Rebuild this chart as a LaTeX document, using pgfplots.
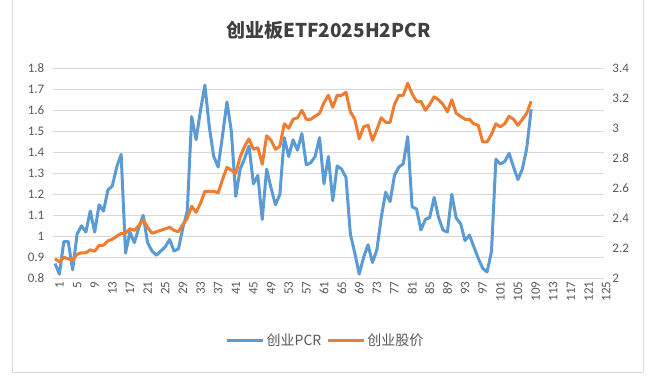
\documentclass[border=0pt]{standalone}
\usepackage{pgfplots}
\pgfplotsset{compat=1.18}
\usepackage{pgfplotstable}
\usepackage{fontspec}
\setmainfont{Carlito}
\newfontfamily\cjk{Noto Sans CJK SC}
\definecolor{pcrblue}{HTML}{5B9BD5}
\definecolor{priceorange}{HTML}{ED7D31}
\definecolor{gridgray}{HTML}{D9D9D9}
\definecolor{textgray}{HTML}{595959}
\definecolor{titlegray}{HTML}{404040}

\pgfplotstableread{
i pcr price
1 0.87 2.13
2 0.82 2.11
3 0.975 2.14
4 0.975 2.13
5 0.84 2.12
6 1.01 2.16
7 1.05 2.17
8 1.02 2.17
9 1.12 2.19
10 1.02 2.18
11 1.15 2.22
12 1.12 2.22
13 1.22 2.25
14 1.24 2.26
15 1.33 2.28
16 1.39 2.30
17 0.92 2.30
18 1.02 2.33
19 0.97 2.32
20 1.04 2.35
21 1.10 2.39
22 0.97 2.34
23 0.93 2.30
24 0.91 2.31
25 0.93 2.32
26 0.95 2.33
27 0.985 2.34
28 0.93 2.32
29 0.94 2.31
30 1.04 2.36
31 1.12 2.40
32 1.57 2.48
33 1.46 2.44
34 1.60 2.50
35 1.72 2.58
36 1.52 2.58
37 1.38 2.58
38 1.33 2.57
39 1.48 2.66
40 1.64 2.74
41 1.50 2.72
42 1.19 2.70
43 1.32 2.81
44 1.37 2.88
45 1.43 2.93
46 1.25 2.86
47 1.29 2.87
48 1.08 2.76
49 1.32 2.95
50 1.23 2.92
51 1.15 2.86
52 1.20 2.88
53 1.47 3.03
54 1.38 3.00
55 1.46 3.06
56 1.41 3.07
57 1.49 3.12
58 1.34 3.06
59 1.35 3.06
60 1.38 3.08
61 1.47 3.10
62 1.25 3.17
63 1.38 3.22
64 1.17 3.14
65 1.335 3.22
66 1.32 3.22
67 1.28 3.24
68 1.01 3.11
69 0.92 3.06
70 0.82 2.93
71 0.90 3.01
72 0.96 3.02
73 0.875 2.92
74 0.935 2.99
75 1.09 3.07
76 1.21 3.04
77 1.165 3.04
78 1.29 3.16
79 1.33 3.22
80 1.345 3.22
81 1.475 3.30
82 1.14 3.23
83 1.13 3.18
84 1.03 3.18
85 1.08 3.12
86 1.09 3.16
87 1.185 3.21
88 1.09 3.19
89 1.03 3.16
90 1.02 3.11
91 1.20 3.19
92 1.086 3.10
93 1.06 3.08
94 0.98 3.06
95 1.006 3.06
96 0.95 3.03
97 0.895 3.02
98 0.848 2.91
99 0.83 2.91
100 0.927 2.96
101 1.367 3.03
102 1.344 3.01
103 1.356 3.03
104 1.395 3.08
105 1.33 3.06
106 1.27 3.02
107 1.32 3.06
108 1.42 3.10
109 1.605 3.18
}\chartdata

\pgfplotsset{
  base/.style={
    at={(52.8bp,101.7bp)}, anchor=south west,
    scale only axis, width=551.1bp, height=210bp,
    xmin=0.5, xmax=125.5,
    axis line style={draw=none},
    major tick length=0pt,
    /pgf/number format/assume math mode=true,
    tick label style={font=\fontsize{13bp}{15bp}\selectfont, text=textgray},
    clip=false,
  }
}

\begin{document}
\begin{tikzpicture}
\path[use as bounding box] (0,0) rectangle (655bp,380bp);
\fill[white] (0,0) rectangle (655bp,380bp);
\draw[gridgray, line width=0.75bp] (12bp,8bp) -- (12bp,380bp);
\draw[gridgray, line width=0.75bp] (643bp,8bp) -- (643bp,380bp);
\draw[gridgray, line width=0.75bp] (12bp,8bp) -- (643bp,8bp);

\begin{axis}[base,
  ymin=0.8, ymax=1.8,
  ytick={0.8,0.9,1,1.1,1.2,1.3,1.4,1.5,1.6,1.7,1.8},
  ymajorgrids, major grid style={gridgray, line width=0.75bp},
  xtick={1,5,9,13,17,21,25,29,33,37,41,45,49,53,57,61,65,69,73,77,81,85,89,93,97,101,105,109,113,117,121,125},
  xticklabel style={rotate=90, anchor=east, yshift=-4.5bp},
  yticklabel style={xshift=-5bp},
]
\addplot[pcrblue, line width=3bp, line join=round, no markers] table[x=i, y=pcr] {\chartdata};
\end{axis}

\begin{axis}[base,
  ymin=2, ymax=3.4,
  ytick={2,2.2,2.4,2.6,2.8,3,3.2,3.4},
  axis y line*=right,
  axis x line=none,
  yticklabel style={xshift=5bp},
  legend style={draw=none, fill=none, legend columns=2,
    at={(0.4948,-0.294)}, anchor=center, inner sep=0pt,
    font=\cjk\fontsize{14bp}{16bp}\selectfont, text=textgray,
    /tikz/every even column/.append style={column sep=3bp}},
  legend image code/.code={\draw[#1] (0bp,0bp) -- (36bp,0bp);},
]
\addlegendimage{pcrblue, line width=3bp}
\addlegendentry{创业PCR}
\addplot[priceorange, line width=3bp, line join=round, no markers] table[x=i, y=price] {\chartdata};
\addlegendentry{创业股价}
\end{axis}

\node[font=\cjk\bfseries\fontsize{19bp}{22bp}\selectfont, text=titlegray] at (328.4bp,350bp) {创业板ETF2025H2PCR};
\end{tikzpicture}
\end{document}
